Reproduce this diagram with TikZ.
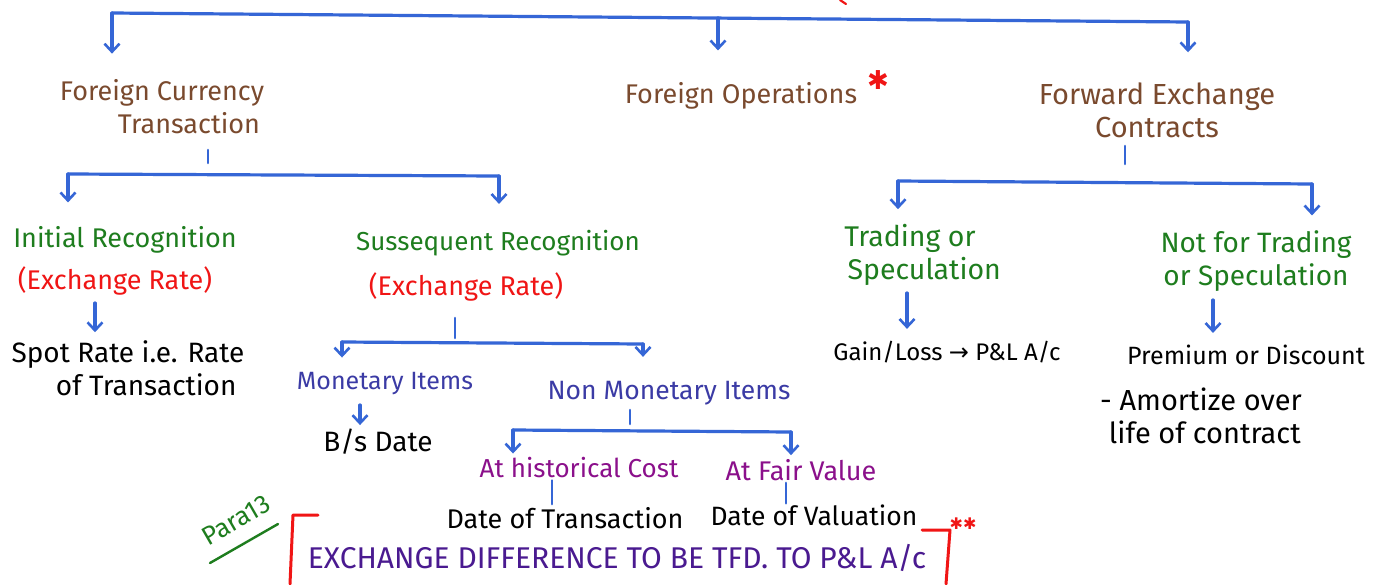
\documentclass[tikz,border=0pt]{standalone}
\usepackage{fontspec}
\setmainfont{Fira Sans}
\newfontfamily\symfont{DejaVu Sans}
\usetikzlibrary{arrows.meta}
\definecolor{brn}{HTML}{7A4A2E}
\definecolor{grn}{HTML}{1E7D1E}
\definecolor{lineblue}{HTML}{3566D6}
\definecolor{ind}{HTML}{3B3BA5}
\definecolor{purp}{HTML}{8B108B}
\definecolor{deepind}{HTML}{4A1A90}
\definecolor{rd}{HTML}{F01515}
\newcommand{\fsz}[1]{\fontsize{#1}{33}\selectfont}
\begin{document}
\begin{tikzpicture}[x=1pt,y=-1pt,
  bar/.style={draw=lineblue, line width=3.2pt, line cap=round},
  arr/.style={bar, -{Straight Barb[length=8pt,width=15pt,line width=2.6pt]}},
  tick/.style={draw=lineblue, line width=2.6pt, line cap=round},
  txt/.style={inner sep=0pt, font=\fsz{27}, align=center},
  rbr/.style={draw=rd, line width=3pt, line cap=round, line join=round}]
\useasboundingbox (0,0) rectangle (1378,584);
\fill[white] (0,0) rectangle (1378,584);

% ---------- level 1 ----------
\node[txt, text=brn] (fct) at (162,107) {Foreign Currency\\\hspace*{2em}Transaction};
\node[txt, text=brn] (fo)  at (741,96) {Foreign Operations};
\node[txt, text=brn, font=\fsz{29}] (fec) at (1157,110) {Forward Exchange\\Contracts};
\node[inner sep=0pt, text=rd, font=\symfont\fontsize{26}{26}\selectfont] (st1) at (878,80) {✱};
\draw[rd, line width=2.2pt, line cap=round] (840,0) -- (846,4);

\coordinate (t1) at (112,13);
\coordinate (t2) at (718,18);
\coordinate (t3) at (1188,22);
\draw[bar] (t1) -- (t3);
\draw[arr, shorten >=26pt] (t1) -- (t1 |- fct.north);
\draw[arr, shorten >=32pt] (t2) -- (t2 |- fo.north);
\draw[arr, shorten >=30pt] (t3) -- (t3 |- fec.north);

% ---------- Foreign currency transaction ----------
\coordinate (b1) at (68,174);
\coordinate (b2) at (499,176);
\draw[tick] (208,150) -- (208,163);
\draw[bar] (b1) -- (b2);

\node[txt, text=grn] (ir)  at (125,240) {Initial Recognition};
\node[txt, text=rd]  (irx) at (115,281) {(Exchange Rate)};
\node[txt, text=grn, font=\fsz{26}] (sr)  at (498,243) {Sussequent Recognition};
\node[txt, text=rd]  (srx) at (466,287) {(Exchange Rate)};
\draw[arr, shorten >=24pt] (b1) -- (b1 |- ir.north);
\draw[arr, shorten >=26pt] (b2) -- (b2 |- sr.north);

\node[txt, font=\fsz{28}] (spot) at (128,368) {Spot Rate i.e. Rate\\\hspace*{1.3em}of Transaction};
\coordinate (a1) at (95,303);
\draw[arr, shorten >=8pt] (a1) -- (a1 |- spot.north);

% subsequent recognition branches
\coordinate (c0) at (455,318);
\coordinate (c1) at (342,342);
\coordinate (c2) at (643,344);
\draw[tick] (c0) -- (455,338);
\draw[bar] (c1) -- (c2);

\node[txt, text=ind, font=\fsz{25}] (mi)  at (385,384) {Monetary Items};
\node[txt, text=ind, font=\fsz{26.5}] (nmi) at (669,393) {Non Monetary Items};
\draw[arr, shorten >=15pt] (c1) -- (c1 |- mi.north);
\draw[arr, shorten >=24pt] (c2) -- (c2 |- nmi.north);

\node[txt, font=\fsz{28}] (bsd) at (378,442) {B/s Date};
\coordinate (a2) at (360,405);
\draw[arr, shorten >=4pt] (a2) -- (a2 |- bsd.north);

\coordinate (d1) at (513,430);
\coordinate (d2) at (791,432);
\draw[tick] (630,410) -- (630,424);
\draw[bar] (d1) -- (d2);

\node[txt, text=purp, font=\fsz{26}] (ahc) at (579,468) {At historical Cost};
\node[txt, text=purp, font=\fsz{27}] (afv) at (801,470) {At Fair Value};
\draw[arr, shorten >=4pt] (d1) -- (d1 |- ahc.north);
\draw[arr, shorten >=4pt] (d2) -- (d2 |- afv.north);

\node[txt] (dot) at (565,518) {Date of Transaction};
\node[txt, font=\fsz{26.5}] (dov) at (814,515) {Date of Valuation};
\draw[tick, shorten <=2pt, shorten >=3pt] (ahc.south -| 552,0) -- (dot.north -| 552,0);
\draw[tick, shorten <=2pt, shorten >=1pt] (afv.south -| 786,0) -- (dov.north -| 786,0);

% ---------- bottom statement ----------
\node[inner sep=0pt, text=grn, font=\fontsize{26}{26}\selectfont, rotate=30] (para) at (236,520) {Para13};
\draw[grn, line width=2.4pt, line cap=round] (210,563) -- (278,524);
\draw[rbr] (318,515) -- (293,515) -- (290,584);
\draw[rbr] (922,530) -- (950,530) -- (946,584);
\node[inner sep=0pt, text=rd, font=\symfont\fontsize{16}{16}\selectfont] (st2) at (963,524) {✱✱};
\node[inner sep=0pt, text=deepind, font=\fontsize{30}{30}\selectfont] (ex) at (617,558) {EXCHANGE DIFFERENCE TO BE TFD. TO P\&L A/c};

% ---------- Forward exchange contracts ----------
\coordinate (e1) at (898,181);
\coordinate (e2) at (1312,184);
\draw[tick] (1125,146) -- (1125,164);
\draw[bar] (e1) -- (e2);

\node[txt, text=grn, font=\fsz{28.5}] (tos) at (910,255) {Trading or\\\hspace*{1em}Speculation};
\node[txt, text=grn, font=\fsz{28}] (nft) at (1256,261) {Not for Trading\\or Speculation};
\draw[arr, shorten >=15pt] (e1) -- (e1 |- tos.north);
\draw[arr, shorten >=15pt] (e2) -- (e2 |- nft.north);

\node[txt, font=\fsz{24}] (gl) at (947,352) {Gain/Loss {\symfont→} P\&L A/c};
\node[txt, font=\fsz{25}] (pd) at (1246,355) {Premium or Discount};
\node[txt, font=\fsz{29}, align=left, anchor=north west] (am) at (1100,388) {- Amortize over\\\hspace*{0.3em}life of contract};
\coordinate (a3) at (907,293);
\coordinate (a4) at (1213,300);
\draw[arr, shorten >=12pt] (a3) -- (a3 |- gl.north);
\draw[arr, shorten >=12pt] (a4) -- (a4 |- pd.north);
\end{tikzpicture}
\end{document}
